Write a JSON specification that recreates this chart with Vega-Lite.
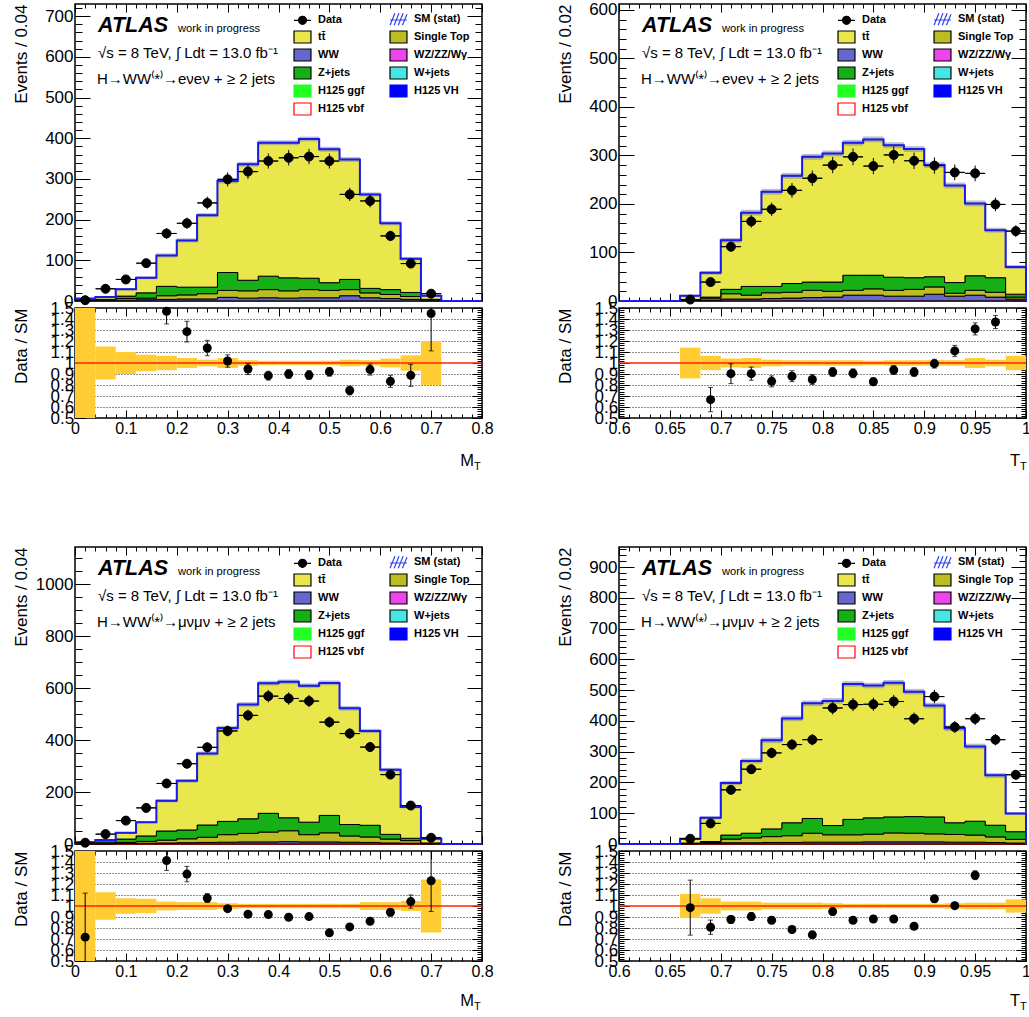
{
"$schema": "https://vega.github.io/schema/vega-lite/v6.json",
"padding": {"left": 11, "top": -2, "right": 0, "bottom": 0},
"background": "white",
"datasets": {
"eeM": [
{"x0":0,"x1":0.04,"xc":0.02,"vbf":0.3,"ww":0.7,"st":0.5,"zj":0.5,"tt":4,"sm":6,"slo":5,"shi":7,"d":2,"de":1.4,"blo":0.4,"bhi":1.6},
{"x0":0.04,"x1":0.08,"xc":0.06,"vbf":0.3,"ww":0.7,"st":1,"zj":2,"tt":6,"sm":10,"slo":8.5,"shi":11.5,"d":30,"de":5.5,"blo":0.85,"bhi":1.15},
{"x0":0.08,"x1":0.12,"xc":0.1,"vbf":0.3,"ww":1.7,"st":4,"zj":6,"tt":17,"sm":29,"slo":26.5,"shi":31.5,"d":53,"de":7.3,"blo":0.9,"bhi":1.1},
{"x0":0.12,"x1":0.16,"xc":0.14,"vbf":0.3,"ww":2.7,"st":4,"zj":13,"tt":37,"sm":57,"slo":53.5,"shi":60.5,"d":93,"de":9.6,"blo":0.925,"bhi":1.075},
{"x0":0.16,"x1":0.2,"xc":0.18,"vbf":0.3,"ww":3.7,"st":9,"zj":23,"tt":76,"sm":112,"slo":107,"shi":117,"d":166,"de":12.9,"r":1.47,"re":0.115,"blo":0.935,"bhi":1.065},
{"x0":0.2,"x1":0.24,"xc":0.22,"vbf":0.3,"ww":4.7,"st":10,"zj":19,"tt":115,"sm":149,"slo":144,"shi":154,"d":191,"de":13.8,"r":1.285,"re":0.094,"blo":0.955,"bhi":1.045},
{"x0":0.24,"x1":0.28,"xc":0.26,"vbf":0.3,"ww":4.7,"st":13,"zj":16,"tt":177,"sm":211,"slo":206,"shi":216,"d":241,"de":15.5,"r":1.136,"re":0.07,"blo":0.97,"bhi":1.03},
{"x0":0.28,"x1":0.32,"xc":0.3,"vbf":0.3,"ww":8.7,"st":17,"zj":44,"tt":225,"sm":295,"slo":289,"shi":301,"d":299,"de":17.3,"r":1.018,"re":0.056,"blo":0.955,"bhi":1.045},
{"x0":0.32,"x1":0.36,"xc":0.34,"vbf":0.3,"ww":6.7,"st":18,"zj":26,"tt":285,"sm":336,"slo":330,"shi":342,"d":318,"de":17.8,"r":0.945,"re":0.05,"blo":0.975,"bhi":1.025},
{"x0":0.36,"x1":0.4,"xc":0.38,"vbf":0.3,"ww":7.7,"st":20,"zj":33,"tt":328,"sm":389,"slo":383,"shi":395,"d":344,"de":18.5,"r":0.885,"re":0.04,"blo":0.98,"bhi":1.02},
{"x0":0.4,"x1":0.44,"xc":0.42,"vbf":0.3,"ww":6.7,"st":18,"zj":32,"tt":332,"sm":389,"slo":383,"shi":395,"d":352,"de":18.8,"r":0.9,"re":0.04,"blo":0.98,"bhi":1.02},
{"x0":0.44,"x1":0.48,"xc":0.46,"vbf":0.3,"ww":7.7,"st":20,"zj":28,"tt":342,"sm":398,"slo":392,"shi":404,"d":355,"de":18.8,"r":0.89,"re":0.04,"blo":0.98,"bhi":1.02},
{"x0":0.48,"x1":0.52,"xc":0.5,"vbf":0.3,"ww":7.7,"st":18,"zj":19,"tt":328,"sm":373,"slo":367,"shi":379,"d":344,"de":18.5,"r":0.92,"re":0.04,"blo":0.98,"bhi":1.02},
{"x0":0.52,"x1":0.56,"xc":0.54,"vbf":0.3,"ww":12.7,"st":15,"zj":25,"tt":295,"sm":348,"slo":342,"shi":354,"d":262,"de":16.2,"r":0.75,"re":0.04,"blo":0.97,"bhi":1.03},
{"x0":0.56,"x1":0.6,"xc":0.58,"vbf":0.3,"ww":7.7,"st":12,"zj":11,"tt":231,"sm":262,"slo":257,"shi":267,"d":246,"de":15.7,"r":0.94,"re":0.05,"blo":0.975,"bhi":1.025},
{"x0":0.6,"x1":0.64,"xc":0.62,"vbf":0.3,"ww":5.7,"st":10,"zj":12,"tt":163,"sm":191,"slo":186,"shi":196,"d":160,"de":12.6,"r":0.833,"re":0.055,"blo":0.96,"bhi":1.04},
{"x0":0.64,"x1":0.68,"xc":0.66,"vbf":0.3,"ww":3.7,"st":7,"zj":10,"tt":83,"sm":104,"slo":100,"shi":108,"d":92,"de":9.6,"r":0.888,"re":0.1,"blo":0.93,"bhi":1.07},
{"x0":0.68,"x1":0.72,"xc":0.7,"vbf":0.3,"ww":0.7,"st":1,"zj":2,"tt":9,"sm":13,"slo":10.5,"shi":15.5,"d":18,"de":4.2,"r":1.45,"re":0.34,"blo":0.8,"bhi":1.2},
{"x0":0.72,"x1":0.76,"xc":0.74,"vbf":0,"ww":0,"st":0,"zj":0,"tt":0,"sm":0},
{"x0":0.76,"x1":0.8,"xc":0.78,"vbf":0,"ww":0,"st":0,"zj":0,"tt":0,"sm":0},
{"x0":0.8,"vbf":0,"ww":0,"st":0,"zj":0,"tt":0,"sm":0}
],
"eeT": [
{"x0":0.6,"x1":0.62,"xc":0.61,"vbf":0,"ww":0,"st":0,"zj":0,"tt":0,"sm":0},
{"x0":0.62,"x1":0.64,"xc":0.63,"vbf":0,"ww":0,"st":0,"zj":0,"tt":0,"sm":0},
{"x0":0.64,"x1":0.66,"xc":0.65,"vbf":0,"ww":0,"st":0,"zj":0,"tt":0,"sm":0},
{"x0":0.66,"x1":0.68,"xc":0.67,"vbf":0.3,"ww":0.7,"st":1,"zj":1,"tt":8,"sm":11,"slo":9,"shi":13,"d":3,"de":1.7,"blo":0.86,"bhi":1.14},
{"x0":0.68,"x1":0.7,"xc":0.69,"vbf":0.3,"ww":1.7,"st":4,"zj":2,"tt":50,"sm":58,"slo":54,"shi":62,"d":39,"de":6.2,"r":0.667,"re":0.11,"blo":0.935,"bhi":1.065},
{"x0":0.7,"x1":0.72,"xc":0.71,"vbf":0.3,"ww":3.7,"st":11,"zj":9,"tt":101,"sm":125,"slo":120,"shi":130,"d":112,"de":10.6,"r":0.903,"re":0.09,"blo":0.96,"bhi":1.04},
{"x0":0.72,"x1":0.74,"xc":0.73,"vbf":0.3,"ww":3.7,"st":8,"zj":18,"tt":152,"sm":182,"slo":176,"shi":188,"d":164,"de":12.8,"r":0.903,"re":0.06,"blo":0.955,"bhi":1.045},
{"x0":0.74,"x1":0.76,"xc":0.75,"vbf":0.3,"ww":4.7,"st":12,"zj":13,"tt":195,"sm":225,"slo":219,"shi":231,"d":189,"de":13.7,"r":0.833,"re":0.05,"blo":0.97,"bhi":1.03},
{"x0":0.76,"x1":0.78,"xc":0.77,"vbf":0.3,"ww":5.7,"st":12,"zj":18,"tt":222,"sm":258,"slo":252,"shi":264,"d":228,"de":15.1,"r":0.88,"re":0.05,"blo":0.975,"bhi":1.025},
{"x0":0.78,"x1":0.8,"xc":0.79,"vbf":0.3,"ww":6.7,"st":15,"zj":17,"tt":258,"sm":297,"slo":291,"shi":303,"d":253,"de":15.9,"r":0.85,"re":0.045,"blo":0.975,"bhi":1.025},
{"x0":0.8,"x1":0.82,"xc":0.81,"vbf":0.3,"ww":7.7,"st":12,"zj":19,"tt":265,"sm":304,"slo":298,"shi":310,"d":280,"de":16.7,"r":0.918,"re":0.04,"blo":0.975,"bhi":1.025},
{"x0":0.82,"x1":0.84,"xc":0.83,"vbf":0.3,"ww":11.7,"st":10,"zj":31,"tt":273,"sm":326,"slo":320,"shi":332,"d":297,"de":17.2,"r":0.906,"re":0.04,"blo":0.975,"bhi":1.025},
{"x0":0.84,"x1":0.86,"xc":0.85,"vbf":0.3,"ww":11.7,"st":13,"zj":28,"tt":280,"sm":333,"slo":327,"shi":339,"d":278,"de":16.7,"r":0.83,"re":0.035,"blo":0.98,"bhi":1.02},
{"x0":0.86,"x1":0.88,"xc":0.87,"vbf":0.3,"ww":9.7,"st":12,"zj":27,"tt":272,"sm":321,"slo":315,"shi":327,"d":301,"de":17.3,"r":0.936,"re":0.04,"blo":0.975,"bhi":1.025},
{"x0":0.88,"x1":0.9,"xc":0.89,"vbf":0.3,"ww":9.7,"st":14,"zj":24,"tt":265,"sm":313,"slo":307,"shi":319,"d":289,"de":17,"r":0.918,"re":0.04,"blo":0.975,"bhi":1.025},
{"x0":0.9,"x1":0.92,"xc":0.91,"vbf":0.3,"ww":13.7,"st":15,"zj":21,"tt":230,"sm":280,"slo":274,"shi":286,"d":279,"de":16.7,"r":0.994,"re":0.04,"blo":0.975,"bhi":1.025},
{"x0":0.92,"x1":0.94,"xc":0.93,"vbf":0.3,"ww":9.7,"st":6,"zj":22,"tt":200,"sm":238,"slo":232,"shi":244,"d":265,"de":16.3,"r":1.11,"re":0.05,"blo":0.975,"bhi":1.025},
{"x0":0.94,"x1":0.96,"xc":0.95,"vbf":0.3,"ww":11.7,"st":10,"zj":30,"tt":149,"sm":201,"slo":195,"shi":207,"d":263,"de":16.2,"r":1.31,"re":0.055,"blo":0.955,"bhi":1.045},
{"x0":0.96,"x1":0.98,"xc":0.97,"vbf":0.3,"ww":7.7,"st":10,"zj":30,"tt":98,"sm":146,"slo":141,"shi":151,"d":199,"de":14.1,"r":1.373,"re":0.06,"blo":0.97,"bhi":1.03},
{"x0":0.98,"x1":1,"xc":0.99,"vbf":0.3,"ww":3.7,"st":4,"zj":6,"tt":56,"sm":70,"slo":66,"shi":74,"d":144,"de":12,"blo":0.935,"bhi":1.065},
{"x0":1,"vbf":0,"ww":0,"st":0,"zj":0,"tt":0,"sm":0}
],
"mmM": [
{"x0":0,"x1":0.04,"xc":0.02,"vbf":0.4,"ww":0.6,"st":1,"zj":1,"tt":4,"sm":7,"slo":5.5,"shi":8.5,"d":5,"de":2.2,"r":0.717,"re":0.4,"blo":0.4,"bhi":1.6},
{"x0":0.04,"x1":0.08,"xc":0.06,"vbf":0.4,"ww":0.6,"st":2,"zj":5,"tt":7,"sm":15,"slo":13,"shi":17,"d":38,"de":6.2,"blo":0.875,"bhi":1.125},
{"x0":0.08,"x1":0.12,"xc":0.1,"vbf":0.4,"ww":1.6,"st":4,"zj":13,"tt":24,"sm":43,"slo":40,"shi":46,"d":90,"de":9.5,"blo":0.93,"bhi":1.07},
{"x0":0.12,"x1":0.16,"xc":0.14,"vbf":0.4,"ww":2.6,"st":7,"zj":21,"tt":53,"sm":84,"slo":80,"shi":88,"d":139,"de":11.8,"blo":0.935,"bhi":1.065},
{"x0":0.16,"x1":0.2,"xc":0.18,"vbf":0.4,"ww":3.6,"st":11,"zj":35,"tt":116,"sm":166,"slo":160,"shi":172,"d":233,"de":15.3,"r":1.413,"re":0.09,"blo":0.96,"bhi":1.04},
{"x0":0.2,"x1":0.24,"xc":0.22,"vbf":0.4,"ww":4.6,"st":15,"zj":34,"tt":189,"sm":243,"slo":236,"shi":250,"d":309,"de":17.6,"r":1.29,"re":0.07,"blo":0.965,"bhi":1.035},
{"x0":0.24,"x1":0.28,"xc":0.26,"vbf":0.4,"ww":5.6,"st":20,"zj":47,"tt":275,"sm":348,"slo":340,"shi":356,"d":372,"de":19.3,"r":1.072,"re":0.04,"blo":0.965,"bhi":1.035},
{"x0":0.28,"x1":0.32,"xc":0.3,"vbf":0.4,"ww":6.6,"st":29,"zj":51,"tt":359,"sm":446,"slo":437,"shi":455,"d":435,"de":20.9,"r":0.976,"re":0.025,"blo":0.975,"bhi":1.025},
{"x0":0.32,"x1":0.36,"xc":0.34,"vbf":0.4,"ww":7.6,"st":33,"zj":56,"tt":440,"sm":537,"slo":528,"shi":546,"d":495,"de":22.2,"r":0.925,"re":0.02,"blo":0.98,"bhi":1.02},
{"x0":0.36,"x1":0.4,"xc":0.38,"vbf":0.4,"ww":7.6,"st":38,"zj":72,"tt":501,"sm":619,"slo":610,"shi":628,"d":569,"de":23.9,"r":0.922,"re":0.02,"blo":0.98,"bhi":1.02},
{"x0":0.4,"x1":0.44,"xc":0.42,"vbf":0.4,"ww":8.6,"st":42,"zj":50,"tt":523,"sm":624,"slo":615,"shi":633,"d":560,"de":23.7,"r":0.898,"re":0.02,"blo":0.98,"bhi":1.02},
{"x0":0.44,"x1":0.48,"xc":0.46,"vbf":0.4,"ww":7.6,"st":28,"zj":48,"tt":525,"sm":609,"slo":600,"shi":618,"d":550,"de":23.5,"r":0.904,"re":0.02,"blo":0.98,"bhi":1.02},
{"x0":0.48,"x1":0.52,"xc":0.5,"vbf":0.4,"ww":7.6,"st":35,"zj":67,"tt":510,"sm":620,"slo":611,"shi":629,"d":469,"de":21.7,"r":0.756,"re":0.02,"blo":0.98,"bhi":1.02},
{"x0":0.52,"x1":0.56,"xc":0.54,"vbf":0.4,"ww":6.6,"st":24,"zj":44,"tt":447,"sm":522,"slo":513,"shi":531,"d":425,"de":20.6,"r":0.81,"re":0.02,"blo":0.98,"bhi":1.02},
{"x0":0.56,"x1":0.6,"xc":0.58,"vbf":0.4,"ww":5.6,"st":21,"zj":45,"tt":363,"sm":435,"slo":427,"shi":443,"d":373,"de":19.3,"r":0.861,"re":0.025,"blo":0.965,"bhi":1.035},
{"x0":0.6,"x1":0.64,"xc":0.62,"vbf":0.4,"ww":3.6,"st":15,"zj":18,"tt":249,"sm":286,"slo":279,"shi":293,"d":267,"de":16.3,"r":0.943,"re":0.035,"blo":0.965,"bhi":1.035},
{"x0":0.64,"x1":0.68,"xc":0.66,"vbf":0.4,"ww":2.6,"st":10,"zj":9,"tt":120,"sm":142,"slo":137,"shi":147,"d":148,"de":12.2,"r":1.04,"re":0.06,"blo":0.955,"bhi":1.045},
{"x0":0.68,"x1":0.72,"xc":0.7,"vbf":0.4,"ww":0.6,"st":1,"zj":2,"tt":16,"sm":20,"slo":18,"shi":22,"d":24,"de":4.9,"r":1.23,"re":0.28,"blo":0.76,"bhi":1.24},
{"x0":0.72,"x1":0.76,"xc":0.74,"vbf":0,"ww":0,"st":0,"zj":0,"tt":0,"sm":0},
{"x0":0.76,"x1":0.8,"xc":0.78,"vbf":0,"ww":0,"st":0,"zj":0,"tt":0,"sm":0},
{"x0":0.8,"vbf":0,"ww":0,"st":0,"zj":0,"tt":0,"sm":0}
],
"mmT": [
{"x0":0.6,"x1":0.62,"xc":0.61,"vbf":0,"ww":0,"st":0,"zj":0,"tt":0,"sm":0},
{"x0":0.62,"x1":0.64,"xc":0.63,"vbf":0,"ww":0,"st":0,"zj":0,"tt":0,"sm":0},
{"x0":0.64,"x1":0.66,"xc":0.65,"vbf":0,"ww":0,"st":0,"zj":0,"tt":0,"sm":0},
{"x0":0.66,"x1":0.68,"xc":0.67,"vbf":0.4,"ww":0.6,"st":1,"zj":1,"tt":14,"sm":17,"slo":14.5,"shi":19.5,"d":17,"de":4.1,"r":0.985,"re":0.25,"blo":0.89,"bhi":1.11},
{"x0":0.68,"x1":0.7,"xc":0.69,"vbf":0.4,"ww":1.6,"st":3,"zj":3,"tt":77,"sm":85,"slo":80,"shi":90,"d":67,"de":8.2,"r":0.807,"re":0.065,"blo":0.93,"bhi":1.07},
{"x0":0.7,"x1":0.72,"xc":0.71,"vbf":0.4,"ww":3.6,"st":12,"zj":13,"tt":169,"sm":198,"slo":191,"shi":205,"d":176,"de":13.3,"r":0.877,"re":0.035,"blo":0.96,"bhi":1.04},
{"x0":0.72,"x1":0.74,"xc":0.73,"vbf":0.4,"ww":3.6,"st":16,"zj":15,"tt":235,"sm":270,"slo":262,"shi":278,"d":243,"de":15.6,"r":0.904,"re":0.035,"blo":0.96,"bhi":1.04},
{"x0":0.74,"x1":0.76,"xc":0.75,"vbf":0.4,"ww":4.6,"st":19,"zj":25,"tt":288,"sm":337,"slo":328,"shi":346,"d":296,"de":17.2,"r":0.87,"re":0.03,"blo":0.97,"bhi":1.03},
{"x0":0.76,"x1":0.78,"xc":0.77,"vbf":0.4,"ww":4.6,"st":22,"zj":42,"tt":339,"sm":408,"slo":399,"shi":417,"d":323,"de":18,"r":0.786,"re":0.03,"blo":0.97,"bhi":1.03},
{"x0":0.78,"x1":0.8,"xc":0.79,"vbf":0.4,"ww":5.6,"st":29,"zj":48,"tt":374,"sm":457,"slo":448,"shi":466,"d":339,"de":18.4,"r":0.738,"re":0.025,"blo":0.97,"bhi":1.03},
{"x0":0.8,"x1":0.82,"xc":0.81,"vbf":0.4,"ww":5.6,"st":24,"zj":30,"tt":405,"sm":465,"slo":456,"shi":474,"d":442,"de":21,"r":0.949,"re":0.03,"blo":0.975,"bhi":1.025},
{"x0":0.82,"x1":0.84,"xc":0.83,"vbf":0.4,"ww":5.6,"st":24,"zj":50,"tt":440,"sm":520,"slo":511,"shi":529,"d":453,"de":21.3,"r":0.87,"re":0.025,"blo":0.98,"bhi":1.02},
{"x0":0.84,"x1":0.86,"xc":0.85,"vbf":0.4,"ww":6.6,"st":25,"zj":53,"tt":430,"sm":515,"slo":506,"shi":524,"d":454,"de":21.3,"r":0.882,"re":0.025,"blo":0.98,"bhi":1.02},
{"x0":0.86,"x1":0.88,"xc":0.87,"vbf":0.4,"ww":6.6,"st":29,"zj":52,"tt":436,"sm":524,"slo":515,"shi":533,"d":463,"de":21.5,"r":0.882,"re":0.025,"blo":0.98,"bhi":1.02},
{"x0":0.88,"x1":0.9,"xc":0.89,"vbf":0.4,"ww":6.6,"st":28,"zj":54,"tt":406,"sm":495,"slo":486,"shi":504,"d":407,"de":20.2,"r":0.816,"re":0.025,"blo":0.98,"bhi":1.02},
{"x0":0.9,"x1":0.92,"xc":0.91,"vbf":0.4,"ww":6.6,"st":26,"zj":55,"tt":362,"sm":450,"slo":441,"shi":459,"d":479,"de":21.9,"r":1.066,"re":0.03,"blo":0.98,"bhi":1.02},
{"x0":0.92,"x1":0.94,"xc":0.93,"vbf":0.4,"ww":5.6,"st":25,"zj":38,"tt":307,"sm":376,"slo":367,"shi":385,"d":380,"de":19.5,"r":1.003,"re":0.03,"blo":0.975,"bhi":1.025},
{"x0":0.94,"x1":0.96,"xc":0.95,"vbf":0.4,"ww":5.6,"st":23,"zj":45,"tt":243,"sm":317,"slo":308,"shi":326,"d":407,"de":20.2,"r":1.28,"re":0.04,"blo":0.97,"bhi":1.03},
{"x0":0.96,"x1":0.98,"xc":0.97,"vbf":0.4,"ww":4.6,"st":18,"zj":38,"tt":162,"sm":223,"slo":215,"shi":231,"d":339,"de":18.4,"blo":0.97,"bhi":1.03},
{"x0":0.98,"x1":1,"xc":0.99,"vbf":0.4,"ww":2.6,"st":12,"zj":25,"tt":59,"sm":99,"slo":94,"shi":104,"d":225,"de":15,"blo":0.94,"bhi":1.06},
{"x0":1,"vbf":0,"ww":0,"st":0,"zj":0,"tt":0,"sm":0}
]
},
"spacing": 65,
"resolve": {"scale": {"fill": "independent", "stroke": "independent", "shape": "independent"}, "legend": {"fill": "independent", "stroke": "independent", "shape": "independent"}},
"vconcat": [
{
"hconcat": [
{
"vconcat": [
{
"width": 407, "height": 297,
"layer": [
{"layer": [
{"data": {"name": "eeM"},
 "transform": [{"fold": ["vbf","ww","st","zj","tt"], "as": ["key","val"]},
  {"calculate": "datum.key==='vbf'?'H125 vbf':datum.key==='ww'?'WW':datum.key==='st'?'Single Top':datum.key==='zj'?'Z+jets':'tt\u0304'", "as": "proc"},
  {"calculate": "indexof(['vbf','ww','st','zj','tt'],datum.key)", "as": "ord"}],
 "mark": {"type": "area", "interpolate": "step-after", "strokeWidth": 1},
 "encoding": {
  "x": {"field": "x0", "type": "quantitative", "scale": {"domain": [0, 0.8], "nice": false, "zero": false}, "axis": {"values": [0,0.02,0.04,0.06,0.08,0.1,0.12,0.14,0.16,0.18,0.2,0.22,0.24,0.26,0.28,0.3,0.32,0.34,0.36,0.38,0.4,0.42,0.44,0.46,0.48,0.5,0.52,0.54,0.56,0.58,0.6,0.62,0.64,0.66,0.68,0.7,0.72,0.74,0.76,0.78,0.8], "tickCount": 1000, "labels": false, "title": null, "tickSize": {"condition": {"test": "abs(datum.value*10-round(datum.value*10))<0.001", "value": -8}, "value": -4}}},
  "y": {"field": "val", "type": "quantitative", "stack": "zero", "scale": {"domain": [0, 730], "nice": false}, "axis": {"values": [0,20,40,60,80,100,120,140,160,180,200,220,240,260,280,300,320,340,360,380,400,420,440,460,480,500,520,540,560,580,600,620,640,660,680,700,720], "tickCount": 1000, "labelExpr": "datum.value%100===0 ? format(datum.value,'d') : ''", "labelOverlap": false, "labelPadding": 17, "tickSize": {"condition": {"test": "datum.value%100===0", "value": -15}, "value": -7}, "title": "Events / 0.04", "titleX": -49, "titleAnchor": "end", "titleBaseline": "alphabetic"}},
  "fill": {"field": "proc", "type": "nominal", "scale": {"domain": ["Data","SM (stat)","tt\u0304","Single Top","WW","WZ/ZZ/W\u03b3","Z+jets","W+jets","H125 ggf","H125 VH","H125 vbf"], "range": ["#000000","rgba(0,0,0,0)","#e9e74b","#bcbc23","#6666cc","#ee44ee","#16b016","#44e6e6","#22ff22","#0000ff","#ffffff"]}, "legend": {"orient": "none", "legendX": 219.5, "legendY": 7, "title": null}},
  "stroke": {"field": "proc", "type": "nominal", "scale": {"domain": ["Data","SM (stat)","tt\u0304","Single Top","WW","WZ/ZZ/W\u03b3","Z+jets","W+jets","H125 ggf","H125 VH","H125 vbf"], "range": ["#000000","#3344ee","#000000","#000000","#000000","#000000","#000000","#000000","#22ff22","#0000ff","#ff0000"]}, "legend": {"orient": "none", "legendX": 219.5, "legendY": 7, "title": null}},
  "order": {"field": "ord", "type": "quantitative"}
 }},
{"data": {"name": "eeM"}, "transform": [{"filter": "isValid(datum.slo)"}], "mark": {"type": "rect", "color": "#7f86a8", "opacity": 0.55}, "encoding": {"x": {"field": "x0", "type": "quantitative"}, "x2": {"field": "x1"}, "y": {"field": "slo", "type": "quantitative"}, "y2": {"field": "shi"}}},
{"data": {"name": "eeM"}, "mark": {"type": "line", "interpolate": "step-after", "color": "#1a1aee", "strokeWidth": 2}, "encoding": {"x": {"field": "x0", "type": "quantitative"}, "y": {"field": "sm", "type": "quantitative"}}},
{"data": {"name": "eeM"}, "transform": [{"filter": "isValid(datum.d)"}], "mark": {"type": "rule", "color": "#000000", "strokeWidth": 1}, "encoding": {"x": {"field": "x0", "type": "quantitative"}, "x2": {"field": "x1"}, "y": {"field": "d", "type": "quantitative"}}},
{"data": {"name": "eeM"}, "transform": [{"filter": "isValid(datum.d)"}], "mark": {"type": "errorbar", "color": "#000000", "thickness": 1}, "encoding": {"x": {"field": "xc", "type": "quantitative", "title": null}, "y": {"field": "d", "type": "quantitative", "title": "Events / 0.04"}, "yError": {"field": "de"}}},
{"data": {"name": "eeM"}, "transform": [{"filter": "isValid(datum.d)"}, {"calculate": "'Data'", "as": "proc"}], "mark": {"type": "point", "filled": true, "size": 268, "opacity": 1, "strokeWidth": 1},
 "encoding": {"x": {"field": "xc", "type": "quantitative"}, "y": {"field": "d", "type": "quantitative"}, "fill": {"field": "proc", "type": "nominal"}, "stroke": {"field": "proc", "type": "nominal"},
  "shape": {"field": "proc", "type": "nominal", "scale": {"domain": ["Data","SM (stat)","tt\u0304","Single Top","WW","WZ/ZZ/W\u03b3","Z+jets","W+jets","H125 ggf","H125 VH","H125 vbf"], "range": ["M-1.17,0H1.17M0.55,0A0.55,0.55,0,1,1,-0.55,0A0.55,0.55,0,1,1,0.55,0Z","M-1.17,0.83L-0.5,-0.83M-0.6,0.83L0.07,-0.83M-0.03,0.83L0.64,-0.83M0.54,0.83L1.17,-0.7M-1.17,0.1H1.17","M-1.17,-0.83H1.17V0.83H-1.17Z","M-1.17,-0.83H1.17V0.83H-1.17Z","M-1.17,-0.83H1.17V0.83H-1.17Z","M-1.17,-0.83H1.17V0.83H-1.17Z","M-1.17,-0.83H1.17V0.83H-1.17Z","M-1.17,-0.83H1.17V0.83H-1.17Z","M-1.17,-0.83H1.17V0.83H-1.17Z","M-1.17,-0.83H1.17V0.83H-1.17Z","M-1.17,-0.83H1.17V0.83H-1.17Z"]}, "legend": {"orient": "none", "legendX": 219.5, "legendY": 7, "title": null}}}},
{"data": {"values": [{}]}, "mark": {"type": "text", "text": "ATLAS", "fontSize": 21.5, "fontWeight": "bold", "fontStyle": "italic", "align": "left", "baseline": "alphabetic"}, "encoding": {"x": {"datum": 0.0452}, "y": {"datum": 661.2}}},
{"data": {"values": [{}]}, "mark": {"type": "text", "text": "work in progress", "fontSize": 11.2, "align": "left", "baseline": "alphabetic"}, "encoding": {"x": {"datum": 0.2025}, "y": {"datum": 661.2}}},
{"data": {"values": [{}]}, "mark": {"type": "text", "text": "\u221as = 8 TeV, \u222b Ldt = 13.0 fb\u207b\u00b9", "fontSize": 15, "align": "left", "baseline": "alphabetic"}, "encoding": {"x": {"datum": 0.0452}, "y": {"datum": 597.3}}},
{"data": {"values": [{}]}, "mark": {"type": "text", "text": "H\u2192WW\u207d*\u207e\u2192e\u03bde\u03bd + \u2265 2 jets", "fontSize": 15, "align": "left", "baseline": "alphabetic"}, "encoding": {"x": {"datum": 0.0432}, "y": {"datum": 533.4}}}
]},
{"data": {"name": "eeM"}, "mark": {"type": "point", "opacity": 0},
 "encoding": {
  "x": {"field": "x0", "type": "quantitative", "axis": {"orient": "top", "values": [0,0.02,0.04,0.06,0.08,0.1,0.12,0.14,0.16,0.18,0.2,0.22,0.24,0.26,0.28,0.3,0.32,0.34,0.36,0.38,0.4,0.42,0.44,0.46,0.48,0.5,0.52,0.54,0.56,0.58,0.6,0.62,0.64,0.66,0.68,0.7,0.72,0.74,0.76,0.78,0.8], "tickCount": 1000, "labels": false, "title": null, "tickSize": {"condition": {"test": "abs(datum.value*10-round(datum.value*10))<0.001", "value": -8}, "value": -4}}},
  "y": {"field": "sm", "type": "quantitative", "axis": {"orient": "right", "values": [0,20,40,60,80,100,120,140,160,180,200,220,240,260,280,300,320,340,360,380,400,420,440,460,480,500,520,540,560,580,600,620,640,660,680,700,720], "tickCount": 1000, "labels": false, "title": null, "tickSize": {"condition": {"test": "datum.value%100===0", "value": -15}, "value": -7}}}
 }}
],
"resolve": {"axis": {"x": "independent", "y": "independent"}}
},
{
"width": 407, "height": 110,
"layer": [
{"layer": [
{"data": {"name": "eeM"}, "transform": [{"filter": "isValid(datum.blo)"}], "mark": {"type": "rect", "color": "#ffcc33", "clip": true},
 "encoding": {
  "x": {"field": "x0", "type": "quantitative", "scale": {"domain": [0, 0.8], "nice": false, "zero": false}, "axis": {"values": [0,0.02,0.04,0.06,0.08,0.1,0.12,0.14,0.16,0.18,0.2,0.22,0.24,0.26,0.28,0.3,0.32,0.34,0.36,0.38,0.4,0.42,0.44,0.46,0.48,0.5,0.52,0.54,0.56,0.58,0.6,0.62,0.64,0.66,0.68,0.7,0.72,0.74,0.76,0.78,0.8], "tickCount": 1000, "labelExpr": "abs(datum.value*10-round(datum.value*10))<0.001 ? format(datum.value,'.2~f') : ''", "labelOverlap": false, "labelPadding": 10, "title": null, "tickSize": {"condition": {"test": "abs(datum.value*10-round(datum.value*10))<0.001", "value": -8}, "value": -4}}},
  "x2": {"field": "x1"},
  "y": {"field": "blo", "type": "quantitative", "scale": {"domain": [0.5, 1.5], "nice": false, "zero": false}, "axis": {"values": [0.5,0.52,0.54,0.56,0.58,0.6,0.62,0.64,0.66,0.68,0.7,0.72,0.74,0.76,0.78,0.8,0.82,0.84,0.86,0.88,0.9,0.92,0.94,0.96,0.98,1,1.02,1.04,1.06,1.08,1.1,1.12,1.14,1.16,1.18,1.2,1.22,1.24,1.26,1.28,1.3,1.32,1.34,1.36,1.38,1.4,1.42,1.44,1.46,1.48,1.5], "tickCount": 1000, "labelExpr": "abs(datum.value*10-round(datum.value*10))<0.001 ? format(datum.value,'.1~f') : ''", "labelOverlap": false, "labelPadding": 11.3, "tickSize": {"condition": {"test": "abs(datum.value*10-round(datum.value*10))<0.001", "value": -10}, "value": -5}, "title": "Data / SM", "titleX": -49, "titleAnchor": "end", "titleBaseline": "alphabetic"}},
  "y2": {"field": "bhi"}
 }},
{"data": {"values": [{}]}, "mark": {"type": "rule", "color": "#ff2200", "strokeWidth": 1.5}, "encoding": {"y": {"datum": 1}}},
{"data": {"name": "eeM"}, "transform": [{"filter": "isValid(datum.r)"}], "mark": {"type": "errorbar", "color": "#000000", "thickness": 1, "ticks": {"size": 5}, "clip": true}, "encoding": {"x": {"field": "xc", "type": "quantitative", "title": null}, "y": {"field": "r", "type": "quantitative", "title": "Data / SM"}, "yError": {"field": "re"}}},
{"data": {"name": "eeM"}, "transform": [{"filter": "isValid(datum.r)"}], "mark": {"type": "circle", "color": "#000000", "size": 81, "opacity": 1}, "encoding": {"x": {"field": "xc", "type": "quantitative"}, "y": {"field": "r", "type": "quantitative"}}},
{"data": {"values": [{}]}, "mark": {"type": "text", "text": "M", "fontSize": 16.5, "align": "right", "baseline": "alphabetic"}, "encoding": {"x": {"datum": 0.7843}, "y": {"datum": 0.0636}}},
{"data": {"values": [{}]}, "mark": {"type": "text", "text": "T", "fontSize": 11, "align": "left", "baseline": "alphabetic"}, "encoding": {"x": {"datum": 0.7843}, "y": {"datum": 0.0273}}}
]},
{"data": {"name": "eeM"}, "transform": [{"filter": "isValid(datum.blo)"}], "mark": {"type": "point", "opacity": 0},
 "encoding": {
  "x": {"field": "x0", "type": "quantitative", "axis": {"orient": "top", "values": [0,0.02,0.04,0.06,0.08,0.1,0.12,0.14,0.16,0.18,0.2,0.22,0.24,0.26,0.28,0.3,0.32,0.34,0.36,0.38,0.4,0.42,0.44,0.46,0.48,0.5,0.52,0.54,0.56,0.58,0.6,0.62,0.64,0.66,0.68,0.7,0.72,0.74,0.76,0.78,0.8], "tickCount": 1000, "labels": false, "title": null, "tickSize": {"condition": {"test": "abs(datum.value*10-round(datum.value*10))<0.001", "value": -8}, "value": -4}}},
  "y": {"field": "blo", "type": "quantitative", "axis": {"orient": "right", "values": [0.5,0.52,0.54,0.56,0.58,0.6,0.62,0.64,0.66,0.68,0.7,0.72,0.74,0.76,0.78,0.8,0.82,0.84,0.86,0.88,0.9,0.92,0.94,0.96,0.98,1,1.02,1.04,1.06,1.08,1.1,1.12,1.14,1.16,1.18,1.2,1.22,1.24,1.26,1.28,1.3,1.32,1.34,1.36,1.38,1.4,1.42,1.44,1.46,1.48,1.5], "tickCount": 1000, "labels": false, "title": null, "tickSize": {"condition": {"test": "abs(datum.value*10-round(datum.value*10))<0.001", "value": -10}, "value": -5}, "grid": true, "gridColor": "#000000", "gridDash": [1, 2], "gridWidth": 1, "gridOpacity": {"condition": {"test": "abs(datum.value*10-round(datum.value*10))<0.001 && datum.value>0.55 && datum.value<1.45 && abs(datum.value-1)>0.01", "value": 0.9}, "value": 0}, "zindex": 0}}
 }}
],
"resolve": {"axis": {"x": "independent", "y": "independent"}}
}
],
"spacing": 7, "bounds": "flush",
"resolve": {"scale": {"fill": "independent", "stroke": "independent", "shape": "independent"}, "legend": {"fill": "independent", "stroke": "independent", "shape": "independent"}}
},
{
"vconcat": [
{
"width": 407, "height": 297,
"layer": [
{"layer": [
{"data": {"name": "eeT"},
 "transform": [{"fold": ["vbf","ww","st","zj","tt"], "as": ["key","val"]},
  {"calculate": "datum.key==='vbf'?'H125 vbf':datum.key==='ww'?'WW':datum.key==='st'?'Single Top':datum.key==='zj'?'Z+jets':'tt\u0304'", "as": "proc"},
  {"calculate": "indexof(['vbf','ww','st','zj','tt'],datum.key)", "as": "ord"}],
 "mark": {"type": "area", "interpolate": "step-after", "strokeWidth": 1},
 "encoding": {
  "x": {"field": "x0", "type": "quantitative", "scale": {"domain": [0.6, 1.0], "nice": false, "zero": false}, "axis": {"values": [0.6,0.61,0.62,0.63,0.64,0.65,0.66,0.67,0.68,0.69,0.7,0.71,0.72,0.73,0.74,0.75,0.76,0.77,0.78,0.79,0.8,0.81,0.82,0.83,0.84,0.85,0.86,0.87,0.88,0.89,0.9,0.91,0.92,0.93,0.94,0.95,0.96,0.97,0.98,0.99,1], "tickCount": 1000, "labels": false, "title": null, "tickSize": {"condition": {"test": "abs(datum.value*20-round(datum.value*20))<0.001", "value": -8}, "value": -4}}},
  "y": {"field": "val", "type": "quantitative", "stack": "zero", "scale": {"domain": [0, 612], "nice": false}, "axis": {"values": [0,20,40,60,80,100,120,140,160,180,200,220,240,260,280,300,320,340,360,380,400,420,440,460,480,500,520,540,560,580,600], "tickCount": 1000, "labelExpr": "datum.value%100===0 ? format(datum.value,'d') : ''", "labelOverlap": false, "labelPadding": 17, "tickSize": {"condition": {"test": "datum.value%100===0", "value": -15}, "value": -7}, "title": "Events / 0.02", "titleX": -49, "titleAnchor": "end", "titleBaseline": "alphabetic"}},
  "fill": {"field": "proc", "type": "nominal", "scale": {"domain": ["Data","SM (stat)","tt\u0304","Single Top","WW","WZ/ZZ/W\u03b3","Z+jets","W+jets","H125 ggf","H125 VH","H125 vbf"], "range": ["#000000","rgba(0,0,0,0)","#e9e74b","#bcbc23","#6666cc","#ee44ee","#16b016","#44e6e6","#22ff22","#0000ff","#ffffff"]}, "legend": {"orient": "none", "legendX": 219.5, "legendY": 7, "title": null}},
  "stroke": {"field": "proc", "type": "nominal", "scale": {"domain": ["Data","SM (stat)","tt\u0304","Single Top","WW","WZ/ZZ/W\u03b3","Z+jets","W+jets","H125 ggf","H125 VH","H125 vbf"], "range": ["#000000","#3344ee","#000000","#000000","#000000","#000000","#000000","#000000","#22ff22","#0000ff","#ff0000"]}, "legend": {"orient": "none", "legendX": 219.5, "legendY": 7, "title": null}},
  "order": {"field": "ord", "type": "quantitative"}
 }},
{"data": {"name": "eeT"}, "transform": [{"filter": "isValid(datum.slo)"}], "mark": {"type": "rect", "color": "#7f86a8", "opacity": 0.55}, "encoding": {"x": {"field": "x0", "type": "quantitative"}, "x2": {"field": "x1"}, "y": {"field": "slo", "type": "quantitative"}, "y2": {"field": "shi"}}},
{"data": {"name": "eeT"}, "mark": {"type": "line", "interpolate": "step-after", "color": "#1a1aee", "strokeWidth": 2}, "encoding": {"x": {"field": "x0", "type": "quantitative"}, "y": {"field": "sm", "type": "quantitative"}}},
{"data": {"name": "eeT"}, "transform": [{"filter": "isValid(datum.d)"}], "mark": {"type": "rule", "color": "#000000", "strokeWidth": 1}, "encoding": {"x": {"field": "x0", "type": "quantitative"}, "x2": {"field": "x1"}, "y": {"field": "d", "type": "quantitative"}}},
{"data": {"name": "eeT"}, "transform": [{"filter": "isValid(datum.d)"}], "mark": {"type": "errorbar", "color": "#000000", "thickness": 1}, "encoding": {"x": {"field": "xc", "type": "quantitative", "title": null}, "y": {"field": "d", "type": "quantitative", "title": "Events / 0.02"}, "yError": {"field": "de"}}},
{"data": {"name": "eeT"}, "transform": [{"filter": "isValid(datum.d)"}, {"calculate": "'Data'", "as": "proc"}], "mark": {"type": "point", "filled": true, "size": 268, "opacity": 1, "strokeWidth": 1},
 "encoding": {"x": {"field": "xc", "type": "quantitative"}, "y": {"field": "d", "type": "quantitative"}, "fill": {"field": "proc", "type": "nominal"}, "stroke": {"field": "proc", "type": "nominal"},
  "shape": {"field": "proc", "type": "nominal", "scale": {"domain": ["Data","SM (stat)","tt\u0304","Single Top","WW","WZ/ZZ/W\u03b3","Z+jets","W+jets","H125 ggf","H125 VH","H125 vbf"], "range": ["M-1.17,0H1.17M0.55,0A0.55,0.55,0,1,1,-0.55,0A0.55,0.55,0,1,1,0.55,0Z","M-1.17,0.83L-0.5,-0.83M-0.6,0.83L0.07,-0.83M-0.03,0.83L0.64,-0.83M0.54,0.83L1.17,-0.7M-1.17,0.1H1.17","M-1.17,-0.83H1.17V0.83H-1.17Z","M-1.17,-0.83H1.17V0.83H-1.17Z","M-1.17,-0.83H1.17V0.83H-1.17Z","M-1.17,-0.83H1.17V0.83H-1.17Z","M-1.17,-0.83H1.17V0.83H-1.17Z","M-1.17,-0.83H1.17V0.83H-1.17Z","M-1.17,-0.83H1.17V0.83H-1.17Z","M-1.17,-0.83H1.17V0.83H-1.17Z","M-1.17,-0.83H1.17V0.83H-1.17Z"]}, "legend": {"orient": "none", "legendX": 219.5, "legendY": 7, "title": null}}}},
{"data": {"values": [{}]}, "mark": {"type": "text", "text": "ATLAS", "fontSize": 21.5, "fontWeight": "bold", "fontStyle": "italic", "align": "left", "baseline": "alphabetic"}, "encoding": {"x": {"datum": 0.6226}, "y": {"datum": 554.3}}},
{"data": {"values": [{}]}, "mark": {"type": "text", "text": "work in progress", "fontSize": 11.2, "align": "left", "baseline": "alphabetic"}, "encoding": {"x": {"datum": 0.7012}, "y": {"datum": 554.3}}},
{"data": {"values": [{}]}, "mark": {"type": "text", "text": "\u221as = 8 TeV, \u222b Ldt = 13.0 fb\u207b\u00b9", "fontSize": 15, "align": "left", "baseline": "alphabetic"}, "encoding": {"x": {"datum": 0.6226}, "y": {"datum": 500.7}}},
{"data": {"values": [{}]}, "mark": {"type": "text", "text": "H\u2192WW\u207d*\u207e\u2192e\u03bde\u03bd + \u2265 2 jets", "fontSize": 15, "align": "left", "baseline": "alphabetic"}, "encoding": {"x": {"datum": 0.6216}, "y": {"datum": 447.2}}}
]},
{"data": {"name": "eeT"}, "mark": {"type": "point", "opacity": 0},
 "encoding": {
  "x": {"field": "x0", "type": "quantitative", "axis": {"orient": "top", "values": [0.6,0.61,0.62,0.63,0.64,0.65,0.66,0.67,0.68,0.69,0.7,0.71,0.72,0.73,0.74,0.75,0.76,0.77,0.78,0.79,0.8,0.81,0.82,0.83,0.84,0.85,0.86,0.87,0.88,0.89,0.9,0.91,0.92,0.93,0.94,0.95,0.96,0.97,0.98,0.99,1], "tickCount": 1000, "labels": false, "title": null, "tickSize": {"condition": {"test": "abs(datum.value*20-round(datum.value*20))<0.001", "value": -8}, "value": -4}}},
  "y": {"field": "sm", "type": "quantitative", "axis": {"orient": "right", "values": [0,20,40,60,80,100,120,140,160,180,200,220,240,260,280,300,320,340,360,380,400,420,440,460,480,500,520,540,560,580,600], "tickCount": 1000, "labels": false, "title": null, "tickSize": {"condition": {"test": "datum.value%100===0", "value": -15}, "value": -7}}}
 }}
],
"resolve": {"axis": {"x": "independent", "y": "independent"}}
},
{
"width": 407, "height": 110,
"layer": [
{"layer": [
{"data": {"name": "eeT"}, "transform": [{"filter": "isValid(datum.blo)"}], "mark": {"type": "rect", "color": "#ffcc33", "clip": true},
 "encoding": {
  "x": {"field": "x0", "type": "quantitative", "scale": {"domain": [0.6, 1.0], "nice": false, "zero": false}, "axis": {"values": [0.6,0.61,0.62,0.63,0.64,0.65,0.66,0.67,0.68,0.69,0.7,0.71,0.72,0.73,0.74,0.75,0.76,0.77,0.78,0.79,0.8,0.81,0.82,0.83,0.84,0.85,0.86,0.87,0.88,0.89,0.9,0.91,0.92,0.93,0.94,0.95,0.96,0.97,0.98,0.99,1], "tickCount": 1000, "labelExpr": "abs(datum.value*20-round(datum.value*20))<0.001 ? format(datum.value,'.2~f') : ''", "labelOverlap": false, "labelPadding": 10, "title": null, "tickSize": {"condition": {"test": "abs(datum.value*20-round(datum.value*20))<0.001", "value": -8}, "value": -4}}},
  "x2": {"field": "x1"},
  "y": {"field": "blo", "type": "quantitative", "scale": {"domain": [0.5, 1.5], "nice": false, "zero": false}, "axis": {"values": [0.5,0.52,0.54,0.56,0.58,0.6,0.62,0.64,0.66,0.68,0.7,0.72,0.74,0.76,0.78,0.8,0.82,0.84,0.86,0.88,0.9,0.92,0.94,0.96,0.98,1,1.02,1.04,1.06,1.08,1.1,1.12,1.14,1.16,1.18,1.2,1.22,1.24,1.26,1.28,1.3,1.32,1.34,1.36,1.38,1.4,1.42,1.44,1.46,1.48,1.5], "tickCount": 1000, "labelExpr": "abs(datum.value*10-round(datum.value*10))<0.001 ? format(datum.value,'.1~f') : ''", "labelOverlap": false, "labelPadding": 11.3, "tickSize": {"condition": {"test": "abs(datum.value*10-round(datum.value*10))<0.001", "value": -10}, "value": -5}, "title": "Data / SM", "titleX": -49, "titleAnchor": "end", "titleBaseline": "alphabetic"}},
  "y2": {"field": "bhi"}
 }},
{"data": {"values": [{}]}, "mark": {"type": "rule", "color": "#ff2200", "strokeWidth": 1.5}, "encoding": {"y": {"datum": 1}}},
{"data": {"name": "eeT"}, "transform": [{"filter": "isValid(datum.r)"}], "mark": {"type": "errorbar", "color": "#000000", "thickness": 1, "ticks": {"size": 5}, "clip": true}, "encoding": {"x": {"field": "xc", "type": "quantitative", "title": null}, "y": {"field": "r", "type": "quantitative", "title": "Data / SM"}, "yError": {"field": "re"}}},
{"data": {"name": "eeT"}, "transform": [{"filter": "isValid(datum.r)"}], "mark": {"type": "circle", "color": "#000000", "size": 81, "opacity": 1}, "encoding": {"x": {"field": "xc", "type": "quantitative"}, "y": {"field": "r", "type": "quantitative"}}},
{"data": {"values": [{}]}, "mark": {"type": "text", "text": "T", "fontSize": 16.5, "align": "right", "baseline": "alphabetic"}, "encoding": {"x": {"datum": 0.9941}, "y": {"datum": 0.0636}}},
{"data": {"values": [{}]}, "mark": {"type": "text", "text": "T", "fontSize": 11, "align": "left", "baseline": "alphabetic"}, "encoding": {"x": {"datum": 0.9941}, "y": {"datum": 0.0273}}}
]},
{"data": {"name": "eeT"}, "transform": [{"filter": "isValid(datum.blo)"}], "mark": {"type": "point", "opacity": 0},
 "encoding": {
  "x": {"field": "x0", "type": "quantitative", "axis": {"orient": "top", "values": [0.6,0.61,0.62,0.63,0.64,0.65,0.66,0.67,0.68,0.69,0.7,0.71,0.72,0.73,0.74,0.75,0.76,0.77,0.78,0.79,0.8,0.81,0.82,0.83,0.84,0.85,0.86,0.87,0.88,0.89,0.9,0.91,0.92,0.93,0.94,0.95,0.96,0.97,0.98,0.99,1], "tickCount": 1000, "labels": false, "title": null, "tickSize": {"condition": {"test": "abs(datum.value*20-round(datum.value*20))<0.001", "value": -8}, "value": -4}}},
  "y": {"field": "blo", "type": "quantitative", "axis": {"orient": "right", "values": [0.5,0.52,0.54,0.56,0.58,0.6,0.62,0.64,0.66,0.68,0.7,0.72,0.74,0.76,0.78,0.8,0.82,0.84,0.86,0.88,0.9,0.92,0.94,0.96,0.98,1,1.02,1.04,1.06,1.08,1.1,1.12,1.14,1.16,1.18,1.2,1.22,1.24,1.26,1.28,1.3,1.32,1.34,1.36,1.38,1.4,1.42,1.44,1.46,1.48,1.5], "tickCount": 1000, "labels": false, "title": null, "tickSize": {"condition": {"test": "abs(datum.value*10-round(datum.value*10))<0.001", "value": -10}, "value": -5}, "grid": true, "gridColor": "#000000", "gridDash": [1, 2], "gridWidth": 1, "gridOpacity": {"condition": {"test": "abs(datum.value*10-round(datum.value*10))<0.001 && datum.value>0.55 && datum.value<1.45 && abs(datum.value-1)>0.01", "value": 0.9}, "value": 0}, "zindex": 0}}
 }}
],
"resolve": {"axis": {"x": "independent", "y": "independent"}}
}
],
"spacing": 7, "bounds": "flush",
"resolve": {"scale": {"fill": "independent", "stroke": "independent", "shape": "independent"}, "legend": {"fill": "independent", "stroke": "independent", "shape": "independent"}}
}
],
"spacing": 61,
"resolve": {"scale": {"fill": "independent", "stroke": "independent", "shape": "independent"}, "legend": {"fill": "independent", "stroke": "independent", "shape": "independent"}}
},
{
"hconcat": [
{
"vconcat": [
{
"width": 407, "height": 297,
"layer": [
{"layer": [
{"data": {"name": "mmM"},
 "transform": [{"fold": ["vbf","ww","st","zj","tt"], "as": ["key","val"]},
  {"calculate": "datum.key==='vbf'?'H125 vbf':datum.key==='ww'?'WW':datum.key==='st'?'Single Top':datum.key==='zj'?'Z+jets':'tt\u0304'", "as": "proc"},
  {"calculate": "indexof(['vbf','ww','st','zj','tt'],datum.key)", "as": "ord"}],
 "mark": {"type": "area", "interpolate": "step-after", "strokeWidth": 1},
 "encoding": {
  "x": {"field": "x0", "type": "quantitative", "scale": {"domain": [0, 0.8], "nice": false, "zero": false}, "axis": {"values": [0,0.02,0.04,0.06,0.08,0.1,0.12,0.14,0.16,0.18,0.2,0.22,0.24,0.26,0.28,0.3,0.32,0.34,0.36,0.38,0.4,0.42,0.44,0.46,0.48,0.5,0.52,0.54,0.56,0.58,0.6,0.62,0.64,0.66,0.68,0.7,0.72,0.74,0.76,0.78,0.8], "tickCount": 1000, "labels": false, "title": null, "tickSize": {"condition": {"test": "abs(datum.value*10-round(datum.value*10))<0.001", "value": -8}, "value": -4}}},
  "y": {"field": "val", "type": "quantitative", "stack": "zero", "scale": {"domain": [0, 1143], "nice": false}, "axis": {"values": [0,50,100,150,200,250,300,350,400,450,500,550,600,650,700,750,800,850,900,950,1000,1050,1100], "tickCount": 1000, "labelExpr": "datum.value%200===0 ? format(datum.value,'d') : ''", "labelOverlap": false, "labelPadding": 17, "tickSize": {"condition": {"test": "datum.value%200===0", "value": -15}, "value": -7}, "title": "Events / 0.04", "titleX": -49, "titleAnchor": "end", "titleBaseline": "alphabetic"}},
  "fill": {"field": "proc", "type": "nominal", "scale": {"domain": ["Data","SM (stat)","tt\u0304","Single Top","WW","WZ/ZZ/W\u03b3","Z+jets","W+jets","H125 ggf","H125 VH","H125 vbf"], "range": ["#000000","rgba(0,0,0,0)","#e9e74b","#bcbc23","#6666cc","#ee44ee","#16b016","#44e6e6","#22ff22","#0000ff","#ffffff"]}, "legend": {"orient": "none", "legendX": 219.5, "legendY": 7, "title": null}},
  "stroke": {"field": "proc", "type": "nominal", "scale": {"domain": ["Data","SM (stat)","tt\u0304","Single Top","WW","WZ/ZZ/W\u03b3","Z+jets","W+jets","H125 ggf","H125 VH","H125 vbf"], "range": ["#000000","#3344ee","#000000","#000000","#000000","#000000","#000000","#000000","#22ff22","#0000ff","#ff0000"]}, "legend": {"orient": "none", "legendX": 219.5, "legendY": 7, "title": null}},
  "order": {"field": "ord", "type": "quantitative"}
 }},
{"data": {"name": "mmM"}, "transform": [{"filter": "isValid(datum.slo)"}], "mark": {"type": "rect", "color": "#7f86a8", "opacity": 0.55}, "encoding": {"x": {"field": "x0", "type": "quantitative"}, "x2": {"field": "x1"}, "y": {"field": "slo", "type": "quantitative"}, "y2": {"field": "shi"}}},
{"data": {"name": "mmM"}, "mark": {"type": "line", "interpolate": "step-after", "color": "#1a1aee", "strokeWidth": 2}, "encoding": {"x": {"field": "x0", "type": "quantitative"}, "y": {"field": "sm", "type": "quantitative"}}},
{"data": {"name": "mmM"}, "transform": [{"filter": "isValid(datum.d)"}], "mark": {"type": "rule", "color": "#000000", "strokeWidth": 1}, "encoding": {"x": {"field": "x0", "type": "quantitative"}, "x2": {"field": "x1"}, "y": {"field": "d", "type": "quantitative"}}},
{"data": {"name": "mmM"}, "transform": [{"filter": "isValid(datum.d)"}], "mark": {"type": "errorbar", "color": "#000000", "thickness": 1}, "encoding": {"x": {"field": "xc", "type": "quantitative", "title": null}, "y": {"field": "d", "type": "quantitative", "title": "Events / 0.04"}, "yError": {"field": "de"}}},
{"data": {"name": "mmM"}, "transform": [{"filter": "isValid(datum.d)"}, {"calculate": "'Data'", "as": "proc"}], "mark": {"type": "point", "filled": true, "size": 268, "opacity": 1, "strokeWidth": 1},
 "encoding": {"x": {"field": "xc", "type": "quantitative"}, "y": {"field": "d", "type": "quantitative"}, "fill": {"field": "proc", "type": "nominal"}, "stroke": {"field": "proc", "type": "nominal"},
  "shape": {"field": "proc", "type": "nominal", "scale": {"domain": ["Data","SM (stat)","tt\u0304","Single Top","WW","WZ/ZZ/W\u03b3","Z+jets","W+jets","H125 ggf","H125 VH","H125 vbf"], "range": ["M-1.17,0H1.17M0.55,0A0.55,0.55,0,1,1,-0.55,0A0.55,0.55,0,1,1,0.55,0Z","M-1.17,0.83L-0.5,-0.83M-0.6,0.83L0.07,-0.83M-0.03,0.83L0.64,-0.83M0.54,0.83L1.17,-0.7M-1.17,0.1H1.17","M-1.17,-0.83H1.17V0.83H-1.17Z","M-1.17,-0.83H1.17V0.83H-1.17Z","M-1.17,-0.83H1.17V0.83H-1.17Z","M-1.17,-0.83H1.17V0.83H-1.17Z","M-1.17,-0.83H1.17V0.83H-1.17Z","M-1.17,-0.83H1.17V0.83H-1.17Z","M-1.17,-0.83H1.17V0.83H-1.17Z","M-1.17,-0.83H1.17V0.83H-1.17Z","M-1.17,-0.83H1.17V0.83H-1.17Z"]}, "legend": {"orient": "none", "legendX": 219.5, "legendY": 7, "title": null}}}},
{"data": {"values": [{}]}, "mark": {"type": "text", "text": "ATLAS", "fontSize": 21.5, "fontWeight": "bold", "fontStyle": "italic", "align": "left", "baseline": "alphabetic"}, "encoding": {"x": {"datum": 0.0452}, "y": {"datum": 1035.2}}},
{"data": {"values": [{}]}, "mark": {"type": "text", "text": "work in progress", "fontSize": 11.2, "align": "left", "baseline": "alphabetic"}, "encoding": {"x": {"datum": 0.2025}, "y": {"datum": 1035.2}}},
{"data": {"values": [{}]}, "mark": {"type": "text", "text": "\u221as = 8 TeV, \u222b Ldt = 13.0 fb\u207b\u00b9", "fontSize": 15, "align": "left", "baseline": "alphabetic"}, "encoding": {"x": {"datum": 0.0452}, "y": {"datum": 935.2}}},
{"data": {"values": [{}]}, "mark": {"type": "text", "text": "H\u2192WW\u207d*\u207e\u2192\u03bc\u03bd\u03bc\u03bd + \u2265 2 jets", "fontSize": 15, "align": "left", "baseline": "alphabetic"}, "encoding": {"x": {"datum": 0.0432}, "y": {"datum": 835.1}}}
]},
{"data": {"name": "mmM"}, "mark": {"type": "point", "opacity": 0},
 "encoding": {
  "x": {"field": "x0", "type": "quantitative", "axis": {"orient": "top", "values": [0,0.02,0.04,0.06,0.08,0.1,0.12,0.14,0.16,0.18,0.2,0.22,0.24,0.26,0.28,0.3,0.32,0.34,0.36,0.38,0.4,0.42,0.44,0.46,0.48,0.5,0.52,0.54,0.56,0.58,0.6,0.62,0.64,0.66,0.68,0.7,0.72,0.74,0.76,0.78,0.8], "tickCount": 1000, "labels": false, "title": null, "tickSize": {"condition": {"test": "abs(datum.value*10-round(datum.value*10))<0.001", "value": -8}, "value": -4}}},
  "y": {"field": "sm", "type": "quantitative", "axis": {"orient": "right", "values": [0,50,100,150,200,250,300,350,400,450,500,550,600,650,700,750,800,850,900,950,1000,1050,1100], "tickCount": 1000, "labels": false, "title": null, "tickSize": {"condition": {"test": "datum.value%200===0", "value": -15}, "value": -7}}}
 }}
],
"resolve": {"axis": {"x": "independent", "y": "independent"}}
},
{
"width": 407, "height": 110,
"layer": [
{"layer": [
{"data": {"name": "mmM"}, "transform": [{"filter": "isValid(datum.blo)"}], "mark": {"type": "rect", "color": "#ffcc33", "clip": true},
 "encoding": {
  "x": {"field": "x0", "type": "quantitative", "scale": {"domain": [0, 0.8], "nice": false, "zero": false}, "axis": {"values": [0,0.02,0.04,0.06,0.08,0.1,0.12,0.14,0.16,0.18,0.2,0.22,0.24,0.26,0.28,0.3,0.32,0.34,0.36,0.38,0.4,0.42,0.44,0.46,0.48,0.5,0.52,0.54,0.56,0.58,0.6,0.62,0.64,0.66,0.68,0.7,0.72,0.74,0.76,0.78,0.8], "tickCount": 1000, "labelExpr": "abs(datum.value*10-round(datum.value*10))<0.001 ? format(datum.value,'.2~f') : ''", "labelOverlap": false, "labelPadding": 10, "title": null, "tickSize": {"condition": {"test": "abs(datum.value*10-round(datum.value*10))<0.001", "value": -8}, "value": -4}}},
  "x2": {"field": "x1"},
  "y": {"field": "blo", "type": "quantitative", "scale": {"domain": [0.5, 1.5], "nice": false, "zero": false}, "axis": {"values": [0.5,0.52,0.54,0.56,0.58,0.6,0.62,0.64,0.66,0.68,0.7,0.72,0.74,0.76,0.78,0.8,0.82,0.84,0.86,0.88,0.9,0.92,0.94,0.96,0.98,1,1.02,1.04,1.06,1.08,1.1,1.12,1.14,1.16,1.18,1.2,1.22,1.24,1.26,1.28,1.3,1.32,1.34,1.36,1.38,1.4,1.42,1.44,1.46,1.48,1.5], "tickCount": 1000, "labelExpr": "abs(datum.value*10-round(datum.value*10))<0.001 ? format(datum.value,'.1~f') : ''", "labelOverlap": false, "labelPadding": 11.3, "tickSize": {"condition": {"test": "abs(datum.value*10-round(datum.value*10))<0.001", "value": -10}, "value": -5}, "title": "Data / SM", "titleX": -49, "titleAnchor": "end", "titleBaseline": "alphabetic"}},
  "y2": {"field": "bhi"}
 }},
{"data": {"values": [{}]}, "mark": {"type": "rule", "color": "#ff2200", "strokeWidth": 1.5}, "encoding": {"y": {"datum": 1}}},
{"data": {"name": "mmM"}, "transform": [{"filter": "isValid(datum.r)"}], "mark": {"type": "errorbar", "color": "#000000", "thickness": 1, "ticks": {"size": 5}, "clip": true}, "encoding": {"x": {"field": "xc", "type": "quantitative", "title": null}, "y": {"field": "r", "type": "quantitative", "title": "Data / SM"}, "yError": {"field": "re"}}},
{"data": {"name": "mmM"}, "transform": [{"filter": "isValid(datum.r)"}], "mark": {"type": "circle", "color": "#000000", "size": 81, "opacity": 1}, "encoding": {"x": {"field": "xc", "type": "quantitative"}, "y": {"field": "r", "type": "quantitative"}}},
{"data": {"values": [{}]}, "mark": {"type": "text", "text": "M", "fontSize": 16.5, "align": "right", "baseline": "alphabetic"}, "encoding": {"x": {"datum": 0.7843}, "y": {"datum": 0.091}}},
{"data": {"values": [{}]}, "mark": {"type": "text", "text": "T", "fontSize": 11, "align": "left", "baseline": "alphabetic"}, "encoding": {"x": {"datum": 0.7843}, "y": {"datum": 0.0545}}}
]},
{"data": {"name": "mmM"}, "transform": [{"filter": "isValid(datum.blo)"}], "mark": {"type": "point", "opacity": 0},
 "encoding": {
  "x": {"field": "x0", "type": "quantitative", "axis": {"orient": "top", "values": [0,0.02,0.04,0.06,0.08,0.1,0.12,0.14,0.16,0.18,0.2,0.22,0.24,0.26,0.28,0.3,0.32,0.34,0.36,0.38,0.4,0.42,0.44,0.46,0.48,0.5,0.52,0.54,0.56,0.58,0.6,0.62,0.64,0.66,0.68,0.7,0.72,0.74,0.76,0.78,0.8], "tickCount": 1000, "labels": false, "title": null, "tickSize": {"condition": {"test": "abs(datum.value*10-round(datum.value*10))<0.001", "value": -8}, "value": -4}}},
  "y": {"field": "blo", "type": "quantitative", "axis": {"orient": "right", "values": [0.5,0.52,0.54,0.56,0.58,0.6,0.62,0.64,0.66,0.68,0.7,0.72,0.74,0.76,0.78,0.8,0.82,0.84,0.86,0.88,0.9,0.92,0.94,0.96,0.98,1,1.02,1.04,1.06,1.08,1.1,1.12,1.14,1.16,1.18,1.2,1.22,1.24,1.26,1.28,1.3,1.32,1.34,1.36,1.38,1.4,1.42,1.44,1.46,1.48,1.5], "tickCount": 1000, "labels": false, "title": null, "tickSize": {"condition": {"test": "abs(datum.value*10-round(datum.value*10))<0.001", "value": -10}, "value": -5}, "grid": true, "gridColor": "#000000", "gridDash": [1, 2], "gridWidth": 1, "gridOpacity": {"condition": {"test": "abs(datum.value*10-round(datum.value*10))<0.001 && datum.value>0.55 && datum.value<1.45 && abs(datum.value-1)>0.01", "value": 0.9}, "value": 0}, "zindex": 0}}
 }}
],
"resolve": {"axis": {"x": "independent", "y": "independent"}}
}
],
"spacing": 7, "bounds": "flush",
"resolve": {"scale": {"fill": "independent", "stroke": "independent", "shape": "independent"}, "legend": {"fill": "independent", "stroke": "independent", "shape": "independent"}}
},
{
"vconcat": [
{
"width": 407, "height": 297,
"layer": [
{"layer": [
{"data": {"name": "mmT"},
 "transform": [{"fold": ["vbf","ww","st","zj","tt"], "as": ["key","val"]},
  {"calculate": "datum.key==='vbf'?'H125 vbf':datum.key==='ww'?'WW':datum.key==='st'?'Single Top':datum.key==='zj'?'Z+jets':'tt\u0304'", "as": "proc"},
  {"calculate": "indexof(['vbf','ww','st','zj','tt'],datum.key)", "as": "ord"}],
 "mark": {"type": "area", "interpolate": "step-after", "strokeWidth": 1},
 "encoding": {
  "x": {"field": "x0", "type": "quantitative", "scale": {"domain": [0.6, 1.0], "nice": false, "zero": false}, "axis": {"values": [0.6,0.61,0.62,0.63,0.64,0.65,0.66,0.67,0.68,0.69,0.7,0.71,0.72,0.73,0.74,0.75,0.76,0.77,0.78,0.79,0.8,0.81,0.82,0.83,0.84,0.85,0.86,0.87,0.88,0.89,0.9,0.91,0.92,0.93,0.94,0.95,0.96,0.97,0.98,0.99,1], "tickCount": 1000, "labels": false, "title": null, "tickSize": {"condition": {"test": "abs(datum.value*20-round(datum.value*20))<0.001", "value": -8}, "value": -4}}},
  "y": {"field": "val", "type": "quantitative", "stack": "zero", "scale": {"domain": [0, 965], "nice": false}, "axis": {"values": [0,20,40,60,80,100,120,140,160,180,200,220,240,260,280,300,320,340,360,380,400,420,440,460,480,500,520,540,560,580,600,620,640,660,680,700,720,740,760,780,800,820,840,860,880,900,920,940,960], "tickCount": 1000, "labelExpr": "datum.value%100===0 ? format(datum.value,'d') : ''", "labelOverlap": false, "labelPadding": 17, "tickSize": {"condition": {"test": "datum.value%100===0", "value": -15}, "value": -7}, "title": "Events / 0.02", "titleX": -49, "titleAnchor": "end", "titleBaseline": "alphabetic"}},
  "fill": {"field": "proc", "type": "nominal", "scale": {"domain": ["Data","SM (stat)","tt\u0304","Single Top","WW","WZ/ZZ/W\u03b3","Z+jets","W+jets","H125 ggf","H125 VH","H125 vbf"], "range": ["#000000","rgba(0,0,0,0)","#e9e74b","#bcbc23","#6666cc","#ee44ee","#16b016","#44e6e6","#22ff22","#0000ff","#ffffff"]}, "legend": {"orient": "none", "legendX": 219.5, "legendY": 7, "title": null}},
  "stroke": {"field": "proc", "type": "nominal", "scale": {"domain": ["Data","SM (stat)","tt\u0304","Single Top","WW","WZ/ZZ/W\u03b3","Z+jets","W+jets","H125 ggf","H125 VH","H125 vbf"], "range": ["#000000","#3344ee","#000000","#000000","#000000","#000000","#000000","#000000","#22ff22","#0000ff","#ff0000"]}, "legend": {"orient": "none", "legendX": 219.5, "legendY": 7, "title": null}},
  "order": {"field": "ord", "type": "quantitative"}
 }},
{"data": {"name": "mmT"}, "transform": [{"filter": "isValid(datum.slo)"}], "mark": {"type": "rect", "color": "#7f86a8", "opacity": 0.55}, "encoding": {"x": {"field": "x0", "type": "quantitative"}, "x2": {"field": "x1"}, "y": {"field": "slo", "type": "quantitative"}, "y2": {"field": "shi"}}},
{"data": {"name": "mmT"}, "mark": {"type": "line", "interpolate": "step-after", "color": "#1a1aee", "strokeWidth": 2}, "encoding": {"x": {"field": "x0", "type": "quantitative"}, "y": {"field": "sm", "type": "quantitative"}}},
{"data": {"name": "mmT"}, "transform": [{"filter": "isValid(datum.d)"}], "mark": {"type": "rule", "color": "#000000", "strokeWidth": 1}, "encoding": {"x": {"field": "x0", "type": "quantitative"}, "x2": {"field": "x1"}, "y": {"field": "d", "type": "quantitative"}}},
{"data": {"name": "mmT"}, "transform": [{"filter": "isValid(datum.d)"}], "mark": {"type": "errorbar", "color": "#000000", "thickness": 1}, "encoding": {"x": {"field": "xc", "type": "quantitative", "title": null}, "y": {"field": "d", "type": "quantitative", "title": "Events / 0.02"}, "yError": {"field": "de"}}},
{"data": {"name": "mmT"}, "transform": [{"filter": "isValid(datum.d)"}, {"calculate": "'Data'", "as": "proc"}], "mark": {"type": "point", "filled": true, "size": 268, "opacity": 1, "strokeWidth": 1},
 "encoding": {"x": {"field": "xc", "type": "quantitative"}, "y": {"field": "d", "type": "quantitative"}, "fill": {"field": "proc", "type": "nominal"}, "stroke": {"field": "proc", "type": "nominal"},
  "shape": {"field": "proc", "type": "nominal", "scale": {"domain": ["Data","SM (stat)","tt\u0304","Single Top","WW","WZ/ZZ/W\u03b3","Z+jets","W+jets","H125 ggf","H125 VH","H125 vbf"], "range": ["M-1.17,0H1.17M0.55,0A0.55,0.55,0,1,1,-0.55,0A0.55,0.55,0,1,1,0.55,0Z","M-1.17,0.83L-0.5,-0.83M-0.6,0.83L0.07,-0.83M-0.03,0.83L0.64,-0.83M0.54,0.83L1.17,-0.7M-1.17,0.1H1.17","M-1.17,-0.83H1.17V0.83H-1.17Z","M-1.17,-0.83H1.17V0.83H-1.17Z","M-1.17,-0.83H1.17V0.83H-1.17Z","M-1.17,-0.83H1.17V0.83H-1.17Z","M-1.17,-0.83H1.17V0.83H-1.17Z","M-1.17,-0.83H1.17V0.83H-1.17Z","M-1.17,-0.83H1.17V0.83H-1.17Z","M-1.17,-0.83H1.17V0.83H-1.17Z","M-1.17,-0.83H1.17V0.83H-1.17Z"]}, "legend": {"orient": "none", "legendX": 219.5, "legendY": 7, "title": null}}}},
{"data": {"values": [{}]}, "mark": {"type": "text", "text": "ATLAS", "fontSize": 21.5, "fontWeight": "bold", "fontStyle": "italic", "align": "left", "baseline": "alphabetic"}, "encoding": {"x": {"datum": 0.6226}, "y": {"datum": 874}}},
{"data": {"values": [{}]}, "mark": {"type": "text", "text": "work in progress", "fontSize": 11.2, "align": "left", "baseline": "alphabetic"}, "encoding": {"x": {"datum": 0.7012}, "y": {"datum": 874}}},
{"data": {"values": [{}]}, "mark": {"type": "text", "text": "\u221as = 8 TeV, \u222b Ldt = 13.0 fb\u207b\u00b9", "fontSize": 15, "align": "left", "baseline": "alphabetic"}, "encoding": {"x": {"datum": 0.6226}, "y": {"datum": 789.5}}},
{"data": {"values": [{}]}, "mark": {"type": "text", "text": "H\u2192WW\u207d*\u207e\u2192\u03bc\u03bd\u03bc\u03bd + \u2265 2 jets", "fontSize": 15, "align": "left", "baseline": "alphabetic"}, "encoding": {"x": {"datum": 0.6216}, "y": {"datum": 705.1}}}
]},
{"data": {"name": "mmT"}, "mark": {"type": "point", "opacity": 0},
 "encoding": {
  "x": {"field": "x0", "type": "quantitative", "axis": {"orient": "top", "values": [0.6,0.61,0.62,0.63,0.64,0.65,0.66,0.67,0.68,0.69,0.7,0.71,0.72,0.73,0.74,0.75,0.76,0.77,0.78,0.79,0.8,0.81,0.82,0.83,0.84,0.85,0.86,0.87,0.88,0.89,0.9,0.91,0.92,0.93,0.94,0.95,0.96,0.97,0.98,0.99,1], "tickCount": 1000, "labels": false, "title": null, "tickSize": {"condition": {"test": "abs(datum.value*20-round(datum.value*20))<0.001", "value": -8}, "value": -4}}},
  "y": {"field": "sm", "type": "quantitative", "axis": {"orient": "right", "values": [0,20,40,60,80,100,120,140,160,180,200,220,240,260,280,300,320,340,360,380,400,420,440,460,480,500,520,540,560,580,600,620,640,660,680,700,720,740,760,780,800,820,840,860,880,900,920,940,960], "tickCount": 1000, "labels": false, "title": null, "tickSize": {"condition": {"test": "datum.value%100===0", "value": -15}, "value": -7}}}
 }}
],
"resolve": {"axis": {"x": "independent", "y": "independent"}}
},
{
"width": 407, "height": 110,
"layer": [
{"layer": [
{"data": {"name": "mmT"}, "transform": [{"filter": "isValid(datum.blo)"}], "mark": {"type": "rect", "color": "#ffcc33", "clip": true},
 "encoding": {
  "x": {"field": "x0", "type": "quantitative", "scale": {"domain": [0.6, 1.0], "nice": false, "zero": false}, "axis": {"values": [0.6,0.61,0.62,0.63,0.64,0.65,0.66,0.67,0.68,0.69,0.7,0.71,0.72,0.73,0.74,0.75,0.76,0.77,0.78,0.79,0.8,0.81,0.82,0.83,0.84,0.85,0.86,0.87,0.88,0.89,0.9,0.91,0.92,0.93,0.94,0.95,0.96,0.97,0.98,0.99,1], "tickCount": 1000, "labelExpr": "abs(datum.value*20-round(datum.value*20))<0.001 ? format(datum.value,'.2~f') : ''", "labelOverlap": false, "labelPadding": 10, "title": null, "tickSize": {"condition": {"test": "abs(datum.value*20-round(datum.value*20))<0.001", "value": -8}, "value": -4}}},
  "x2": {"field": "x1"},
  "y": {"field": "blo", "type": "quantitative", "scale": {"domain": [0.5, 1.5], "nice": false, "zero": false}, "axis": {"values": [0.5,0.52,0.54,0.56,0.58,0.6,0.62,0.64,0.66,0.68,0.7,0.72,0.74,0.76,0.78,0.8,0.82,0.84,0.86,0.88,0.9,0.92,0.94,0.96,0.98,1,1.02,1.04,1.06,1.08,1.1,1.12,1.14,1.16,1.18,1.2,1.22,1.24,1.26,1.28,1.3,1.32,1.34,1.36,1.38,1.4,1.42,1.44,1.46,1.48,1.5], "tickCount": 1000, "labelExpr": "abs(datum.value*10-round(datum.value*10))<0.001 ? format(datum.value,'.1~f') : ''", "labelOverlap": false, "labelPadding": 11.3, "tickSize": {"condition": {"test": "abs(datum.value*10-round(datum.value*10))<0.001", "value": -10}, "value": -5}, "title": "Data / SM", "titleX": -49, "titleAnchor": "end", "titleBaseline": "alphabetic"}},
  "y2": {"field": "bhi"}
 }},
{"data": {"values": [{}]}, "mark": {"type": "rule", "color": "#ff2200", "strokeWidth": 1.5}, "encoding": {"y": {"datum": 1}}},
{"data": {"name": "mmT"}, "transform": [{"filter": "isValid(datum.r)"}], "mark": {"type": "errorbar", "color": "#000000", "thickness": 1, "ticks": {"size": 5}, "clip": true}, "encoding": {"x": {"field": "xc", "type": "quantitative", "title": null}, "y": {"field": "r", "type": "quantitative", "title": "Data / SM"}, "yError": {"field": "re"}}},
{"data": {"name": "mmT"}, "transform": [{"filter": "isValid(datum.r)"}], "mark": {"type": "circle", "color": "#000000", "size": 81, "opacity": 1}, "encoding": {"x": {"field": "xc", "type": "quantitative"}, "y": {"field": "r", "type": "quantitative"}}},
{"data": {"values": [{}]}, "mark": {"type": "text", "text": "T", "fontSize": 16.5, "align": "right", "baseline": "alphabetic"}, "encoding": {"x": {"datum": 0.9941}, "y": {"datum": 0.091}}},
{"data": {"values": [{}]}, "mark": {"type": "text", "text": "T", "fontSize": 11, "align": "left", "baseline": "alphabetic"}, "encoding": {"x": {"datum": 0.9941}, "y": {"datum": 0.0545}}}
]},
{"data": {"name": "mmT"}, "transform": [{"filter": "isValid(datum.blo)"}], "mark": {"type": "point", "opacity": 0},
 "encoding": {
  "x": {"field": "x0", "type": "quantitative", "axis": {"orient": "top", "values": [0.6,0.61,0.62,0.63,0.64,0.65,0.66,0.67,0.68,0.69,0.7,0.71,0.72,0.73,0.74,0.75,0.76,0.77,0.78,0.79,0.8,0.81,0.82,0.83,0.84,0.85,0.86,0.87,0.88,0.89,0.9,0.91,0.92,0.93,0.94,0.95,0.96,0.97,0.98,0.99,1], "tickCount": 1000, "labels": false, "title": null, "tickSize": {"condition": {"test": "abs(datum.value*20-round(datum.value*20))<0.001", "value": -8}, "value": -4}}},
  "y": {"field": "blo", "type": "quantitative", "axis": {"orient": "right", "values": [0.5,0.52,0.54,0.56,0.58,0.6,0.62,0.64,0.66,0.68,0.7,0.72,0.74,0.76,0.78,0.8,0.82,0.84,0.86,0.88,0.9,0.92,0.94,0.96,0.98,1,1.02,1.04,1.06,1.08,1.1,1.12,1.14,1.16,1.18,1.2,1.22,1.24,1.26,1.28,1.3,1.32,1.34,1.36,1.38,1.4,1.42,1.44,1.46,1.48,1.5], "tickCount": 1000, "labels": false, "title": null, "tickSize": {"condition": {"test": "abs(datum.value*10-round(datum.value*10))<0.001", "value": -10}, "value": -5}, "grid": true, "gridColor": "#000000", "gridDash": [1, 2], "gridWidth": 1, "gridOpacity": {"condition": {"test": "abs(datum.value*10-round(datum.value*10))<0.001 && datum.value>0.55 && datum.value<1.45 && abs(datum.value-1)>0.01", "value": 0.9}, "value": 0}, "zindex": 0}}
 }}
],
"resolve": {"axis": {"x": "independent", "y": "independent"}}
}
],
"spacing": 7, "bounds": "flush",
"resolve": {"scale": {"fill": "independent", "stroke": "independent", "shape": "independent"}, "legend": {"fill": "independent", "stroke": "independent", "shape": "independent"}}
}
],
"spacing": 61,
"resolve": {"scale": {"fill": "independent", "stroke": "independent", "shape": "independent"}, "legend": {"fill": "independent", "stroke": "independent", "shape": "independent"}}
}
],
"config": {
 "font": "Liberation Sans",
 "view": {"stroke": "#000000", "strokeWidth": 1.5},
 "axis": {"domain": false, "grid": false, "ticks": true, "tickColor": "#000000", "tickWidth": 1, "tickOpacity": 1, "labelFont": "Liberation Sans", "labelFontSize": 17, "labelColor": "#000000", "labelOverlap": false, "labelFlush": false, "titleFont": "Liberation Sans", "titleFontSize": 17, "titleFontWeight": "normal", "titleColor": "#000000", "minExtent": 0, "zindex": 1},
 "axisX": {"labelFontSize": 16},
 "legend": {"labelFont": "Liberation Sans", "labelFontSize": 11, "labelFontWeight": "bold", "labelColor": "#000000", "symbolSize": 210, "symbolStrokeWidth": 1.2, "columns": 2, "direction": "horizontal", "columnPadding": 23, "rowPadding": 0, "labelOffset": 7.5, "padding": 0},
 "text": {"font": "Liberation Sans", "color": "#000000"}
}
}
